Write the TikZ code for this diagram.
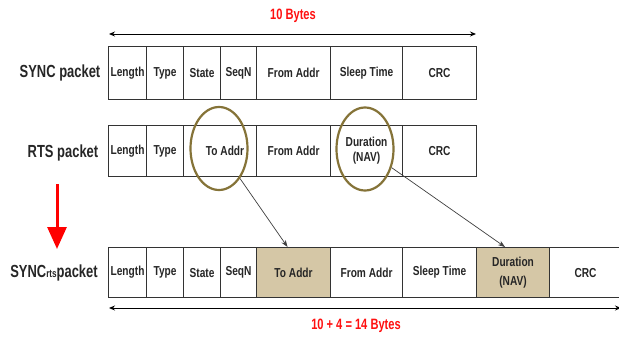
\documentclass[tikz,border=0pt]{standalone}
\usepackage{fontspec}
\setmainfont{Liberation Sans}
\newfontfamily\narrowfont[FakeStretch=0.78]{Liberation Sans}
\newfontfamily\narrowerfont[FakeStretch=0.74]{Liberation Sans}
\usetikzlibrary{arrows.meta,shapes.geometric}
\definecolor{tan}{HTML}{D5C7A6}
\definecolor{olive}{HTML}{857338}
\definecolor{redlbl}{HTML}{FF1010}
\begin{document}
\begin{tikzpicture}[x=1pt,y=-1pt,
  cell/.style={draw=black!80, line width=1.1pt, anchor=north west, inner sep=0pt,
     align=center, font=\narrowfont\bfseries\fontsize{13}{13}\selectfont, text=black!85},
  hl/.style={fill=tan},
  rowlbl/.style={font=\narrowerfont\bfseries\fontsize{17.5}{19}\selectfont, text=black!85},
  ring/.style={draw=olive, line width=2.2pt, ellipse, inner sep=0pt},
  dim/.style={line width=0.9pt, {Stealth[length=6pt,width=5pt]}-{Stealth[length=6pt,width=5pt]}},
  link/.style={line width=0.7pt, draw=black!75, -{Stealth[length=7pt,width=5pt]}},
  bytes/.style={text=redlbl, font=\narrowerfont\bfseries\fontsize{15}{17}\selectfont}
]
\useasboundingbox (0,0) rectangle (619,337);
\fill[white] (0,0) rectangle (619,337);
% SYNC row
\node[rowlbl] (l1) at (60,73) {SYNC packet};
\node[cell, minimum width=38, minimum height=53] (a1) at (108,46) {Length};
\node[cell, minimum width=37, minimum height=53] (a2) at (146,46) {Type};
\node[cell, minimum width=37, minimum height=53] (a3) at (183,46) {State};
\node[cell, minimum width=36, minimum height=53] (a4) at (220,46) {SeqN};
\node[cell, minimum width=74, minimum height=53] (a5) at (256,46) {From Addr};
\node[cell, minimum width=72, minimum height=53] (a6) at (330,46) {Sleep Time};
\node[cell, minimum width=74, minimum height=53] (a7) at (402,46) {CRC};
\coordinate (t1) at (109,34);
\coordinate (t2) at (476,34);
\draw[dim] (t1) -- (t2);
\node[bytes] (b1) at (293,16) {10 Bytes};
% RTS row
\node[rowlbl] (l2) at (63,153) {RTS packet};
\node[cell, minimum width=38, minimum height=51] (r1) at (108,125) {Length};
\node[cell, minimum width=37, minimum height=51] (r2) at (146,125) {Type};
\node[cell, minimum width=73, minimum height=51] (r3) at (183,125) {\hspace*{10pt}To Addr};
\node[cell, minimum width=74, minimum height=51] (r4) at (256,125) {From Addr};
\node[cell, minimum width=72, minimum height=51] (r5) at (330,125) {Duration\\[2pt](NAV)};
\node[cell, minimum width=74, minimum height=51] (r6) at (402,125) {CRC};
\node[ring, minimum width=57, minimum height=83] (e1) at (219,148.5) {};
\node[ring, minimum width=57, minimum height=83] (e2) at (365,149) {};
% red arrow
\coordinate (d1) at (57,184);
\coordinate (d2) at (57,249);
\draw[draw=red, line width=3pt, -{Triangle[length=22pt,width=19pt]}] (d1) -- (d2);
% SYNCrts row
\node[rowlbl] (l3) at (54,273) {SYNC{\fontsize{11}{12}\selectfont rts}packet};
\node[cell, minimum width=38, minimum height=50] (s1) at (108,247) {Length};
\node[cell, minimum width=37, minimum height=50] (s2) at (146,247) {Type};
\node[cell, minimum width=37, minimum height=50] (s3) at (183,247) {State};
\node[cell, minimum width=36, minimum height=50] (s4) at (220,247) {SeqN};
\node[cell, hl, minimum width=74, minimum height=50] (s5) at (256,247) {To Addr};
\node[cell, minimum width=72, minimum height=50] (s6) at (330,247) {From Addr};
\node[cell, minimum width=74, minimum height=50] (s7) at (402,247) {Sleep Time};
\node[cell, hl, minimum width=73, minimum height=50] (s8) at (476,247) {Duration\\[6pt](NAV)};
\node[cell, minimum width=72, minimum height=50] (s9) at (549,247) {CRC};
\coordinate (u1) at (109,308);
\coordinate (u2) at (621,308);
\draw[dim] (u1) -- (u2);
\node[bytes] (b2) at (356,326) {10 + 4 = 14 Bytes};
% links
\draw[link] (e1.-55) -- ([xshift=-6pt]s5.north);
\draw[link] (e2.-35) -- ([xshift=-8pt]s8.north);
\end{tikzpicture}
\end{document}
